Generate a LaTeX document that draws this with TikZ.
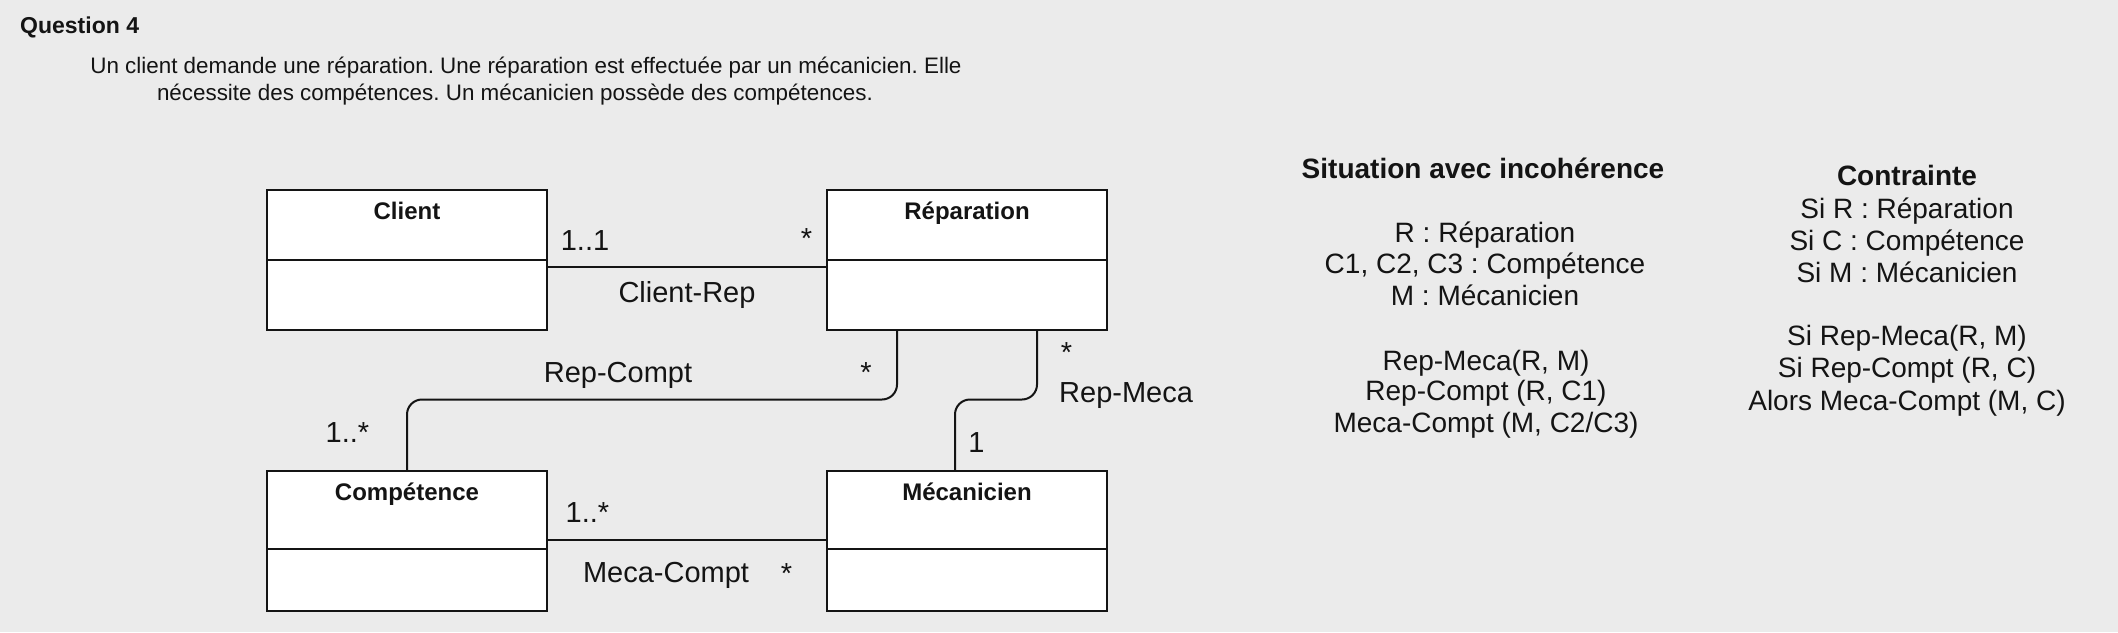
\documentclass[tikz,border=0pt]{standalone}
\usepackage{fontspec}
\setmainfont{Liberation Sans}
\frenchspacing
\definecolor{bg}{HTML}{EBEBEB}
\definecolor{ink}{HTML}{141414}
\tikzset{
  classbox/.style={draw=ink, fill=white, line width=2pt, minimum width=280pt, minimum height=140pt, inner sep=0pt, outer sep=0pt},
  classname/.style={font=\fontsize{24}{28}\selectfont\bfseries, anchor=base, text=ink, inner sep=0pt},
  divider/.style={draw=ink, line width=2pt},
  lbl/.style={font=\fontsize{29}{34}\selectfont, anchor=base, text=ink, inner sep=0pt},
  conn/.style={draw=ink, line width=2pt, rounded corners=15pt},
  info/.style={font=\fontsize{28}{32}\selectfont, anchor=base, text=ink, inner sep=0pt},
  infohead/.style={font=\fontsize{28}{32}\selectfont\bfseries, anchor=base, text=ink, inner sep=0pt},
  desc/.style={font=\fontsize{22.4}{27}\selectfont, anchor=base, text=ink, inner sep=0pt},
}
\begin{document}
\begin{tikzpicture}[x=1pt,y=-1pt]
\fill[bg] (0,0) rectangle (2118,632);
\useasboundingbox (0,0) rectangle (2118,632);

% header
\node[font=\fontsize{23}{28}\selectfont\bfseries, anchor=base west, text=ink, inner sep=0pt] (title) at (20,33) {Question 4};
\node[desc] (desc1) at (526,73) {Un client demande une réparation. Une réparation est effectuée par un mécanicien. Elle};
\node[desc] (desc2) at (515,100) {nécessite des compétences. Un mécanicien possède des compétences.};

% classes
\node[classbox] (client) at (407,259.5) {};
\node[classbox] (rep) at (967,259.5) {};
\node[classbox] (comp) at (407,541) {};
\node[classbox] (meca) at (967,541) {};

\draw[divider] (client.west) -- (client.east);
\draw[divider] (rep.west) -- (rep.east);
\draw[divider] ([yshift=-8pt]comp.west) -- ([yshift=-8pt]comp.east);
\draw[divider] ([yshift=-8pt]meca.west) -- ([yshift=-8pt]meca.east);

\node[classname] (clientname) at ([yshift=-30pt]client.north) {Client};
\node[classname] (repname) at ([yshift=-30pt]rep.north) {Réparation};
\node[classname] (compname) at ([yshift=-29pt]comp.north) {Compétence};
\node[classname] (mecaname) at ([yshift=-29pt]meca.north) {Mécanicien};

% connectors
\draw[conn] ([yshift=-7pt]client.east) -- ([yshift=-7pt]rep.west);
\draw[conn] ([xshift=-70pt]rep.south) -- ++(0,70) -| (comp.north);
\draw[conn] ([xshift=70pt]rep.south) -- ++(0,70) -| ([xshift=-12pt]meca.north);
\draw[conn] ([yshift=1pt]comp.east) -- ([yshift=1pt]meca.west);

% association labels
\node[lbl] (m11) at (585,250) {1..1};
\node[lbl] (mrep1) at (806.5,248) {*};
\node[lbl] (lclientrep) at (687,302) {Client-Rep};
\node[lbl] (lrepcompt) at (618,382) {Rep-Compt};
\node[lbl] (mrep2) at (866,382) {*};
\node[lbl] (mcomp1) at (347.5,442) {1..*};
\node[lbl] (mrep3) at (1066.5,362) {*};
\node[lbl, anchor=base west] (lrepmeca) at (1059,402) {Rep-Meca};
\node[lbl] (mmeca1) at (976.5,452) {1};
\node[lbl] (mcomp2) at (587.5,522) {1..*};
\node[lbl] (lmecacompt) at (666,582) {Meca-Compt};
\node[lbl] (mmeca2) at (786.5,583) {*};

% situation
\node[infohead] (sithead) at (1483,178) {Situation avec incohérence};
\node[info] (s1) at (1485,242) {R : Réparation};
\node[info] (s2) at (1485,273) {C1, C2, C3 : Compétence};
\node[info] (s3) at (1485,305) {M : Mécanicien};
\node[info] (s4) at (1486,370) {Rep-Meca(R, M)};
\node[info] (s5) at (1486,400) {Rep-Compt (R, C1)};
\node[info] (s6) at (1486,432) {Meca-Compt (M, C2/C3)};

% contrainte
\node[infohead] (conthead) at (1907,185) {Contrainte};
\node[info] (c1) at (1907,218) {Si R : Réparation};
\node[info] (c2) at (1907,250) {Si C : Compétence};
\node[info] (c3) at (1907,282) {Si M : Mécanicien};
\node[info] (c4) at (1907,345) {Si Rep-Meca(R, M)};
\node[info] (c5) at (1907,377) {Si Rep-Compt (R, C)};
\node[info] (c6) at (1907,410) {Alors Meca-Compt (M, C)};
\end{tikzpicture}
\end{document}
